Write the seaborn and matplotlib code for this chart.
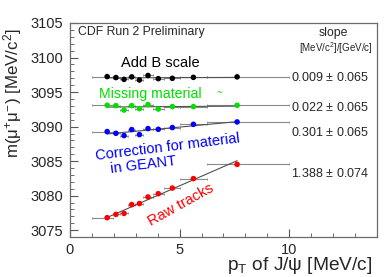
import numpy as np
import pandas as pd
import matplotlib
matplotlib.use("Agg")
import matplotlib.pyplot as plt
import seaborn as sns

# pT bin means and bin edges (GeV/c)
pt = [1.70, 2.10, 2.47, 2.82, 3.17, 3.56, 4.03, 4.67, 5.63, 7.62]
pt_lo = [1.00, 1.95, 2.28, 2.63, 2.97, 3.35, 3.80, 4.30, 5.00, 6.25]
pt_hi = [1.95, 2.28, 2.63, 2.97, 3.35, 3.80, 4.30, 5.00, 6.25, 10.0]

# fitted J/psi mass per bin
m_bscale = [3097.24, 3097.10, 3096.84, 3097.20, 3096.75, 3097.40, 3096.94, 3096.99, 3097.13, 3097.20]
m_missing = [3093.09, 3093.04, 3092.40, 3093.04, 3092.60, 3093.19, 3092.54, 3092.90, 3092.90, 3093.09]
m_geant = [3089.28, 3089.03, 3088.70, 3089.57, 3088.84, 3089.71, 3089.61, 3089.86, 3090.33, 3090.68]
m_raw = [3076.81, 3077.29, 3077.43, 3078.71, 3078.86, 3079.81, 3080.29, 3081.10, 3082.47, 3084.53]
m_err = 0.15

series = ["Add B scale", "Missing material", "GEANT", "Raw tracks"]
colors = ["black", "#00e000", "blue", "red"]
slopes = [0.009, 0.022, 0.301, 1.388]
slope_errs = [0.065, 0.065, 0.065, 0.074]

sns.set_theme(style="ticks")
plt.rcParams["font.family"] = ["Liberation Sans", "DejaVu Sans"]
plt.rcParams["mathtext.fontset"] = "custom"
plt.rcParams["mathtext.rm"] = "Liberation Sans"
plt.rcParams["mathtext.it"] = "Liberation Sans:italic"

masses = [m_bscale, m_missing, m_geant, m_raw]
df = pd.concat([pd.DataFrame({"pt": pt, "mass": m, "series": s})
                for s, m in zip(series, masses)], ignore_index=True)

fig = plt.figure(figsize=(3.88, 2.77), dpi=100)
ax = fig.add_axes([0.180, 0.144, 0.792, 0.773])

pt_arr = np.array(pt)
xerr = [pt_arr - np.array(pt_lo), np.array(pt_hi) - pt_arr]
for s, m, c, k in zip(series, masses, colors, slopes):
    ax.errorbar(pt, m, xerr=xerr, yerr=m_err, fmt="none", ecolor="#8a8a8a",
                elinewidth=0.8, capsize=1, capthick=0.6, zorder=1)
    # linear fit line through the points
    b = np.mean(m) - k * np.mean(pt)
    xs = np.array([pt[0], pt[-1]])
    ax.plot(xs, b + k * xs, color="#505050", lw=0.8, zorder=2)

sns.scatterplot(data=df, x="pt", y="mass", hue="series", palette=colors,
                s=16, edgecolor="none", legend=False, ax=ax, zorder=3)

ax.set_xlim(0, 14)
ax.set_ylim(3074, 3105)
ax.set_xticks([0, 5, 10])
ax.set_xticks(np.arange(0, 14.1, 1), minor=True)
ax.set_yticks(np.arange(3075, 3106, 5))
ax.set_yticks(np.arange(3074, 3105.1, 1), minor=True)
ax.tick_params(which="both", direction="in", labelsize=10.5, color="#555555")
ax.tick_params(which="major", length=6, width=0.8)
ax.tick_params(which="minor", length=3, width=0.6)
ax.tick_params(axis="y", pad=5)
ax.tick_params(axis="x", pad=4)
for sp in ax.spines.values():
    sp.set_color("#6a6a6a")
    sp.set_linewidth(0.9)

ax.set_xlabel(r"p$_\mathrm{T}$ of J/$\mathrm{\psi}$ [MeV/c]", fontsize=13.8, loc="right")
ax.set_ylabel(r"m($\mathrm{\mu^{+}\mu^{-}}$) [MeV/c$^{2}$]", fontsize=12.2, loc="top")
ax.xaxis.set_label_coords(0.985, -0.085)
ax.yaxis.set_label_coords(-0.15, 0.975)

ax.text(0.37, 3103.7, "CDF Run 2 Preliminary", fontsize=8.8, va="center")
ax.text(4.11, 3099.2, "Add B scale", fontsize=10.5, ha="center", va="center", color="black")
ax.text(1.32, 3094.7, "Missing material", fontsize=10.2, va="center", color="#00e000")
ax.text(6.8, 3094.9, "~", fontsize=7, va="center", ha="center", color="#00e000")
ax.text(4.45, 3087.07, "Correction for material", fontsize=10.5, ha="center", va="center",
        rotation=7, rotation_mode="anchor", color="blue")
ax.text(3.34, 3084.42, "in GEANT", fontsize=10.5, ha="center", va="center",
        rotation=7, rotation_mode="anchor", color="blue")
ax.text(5.05, 3078.6, "Raw tracks", fontsize=10.5, ha="center", va="center",
        rotation=29, rotation_mode="anchor", color="red")

ax.text(11.99, 3103.55, "slope", fontsize=8.8, ha="center", va="center")
ax.text(12.1, 3101.3, "[MeV/c$^{2}$]/[GeV/c]", fontsize=7, ha="center", va="center")
slope_y = [3097.13, 3092.73, 3089.1, 3083.2]
for k, e, y in zip(slopes, slope_errs, slope_y):
    ax.text(10.09, y, f"{k:.3f} $\\pm$ {e:.3f}", fontsize=9, va="center")

fig.savefig("out.png", dpi=100)
